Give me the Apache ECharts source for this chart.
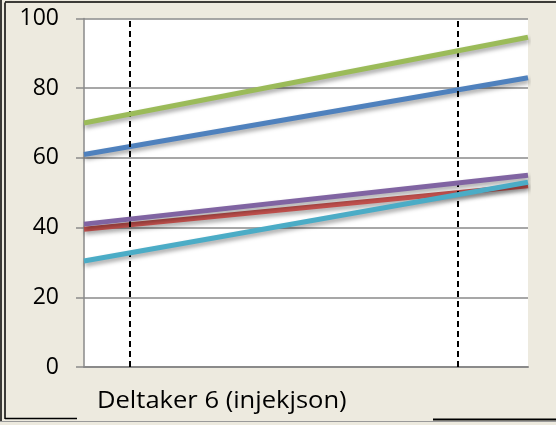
<!DOCTYPE html>
<html>
<head>
<meta charset="utf-8">
<script src="https://cdn.jsdelivr.net/npm/echarts@6/dist/echarts.min.js"></script>
<style>
  html, body { margin: 0; padding: 0; background: #EDEADF; }
  #chart { width: 556px; height: 425px; }
</style>
</head>
<body>
<div id="chart"></div>
<script>
// Time positions (start / end of the trend) and the two session markers
const xPoints = [0, 100];
const sessionMarks = [10.2, 84.1];

// Series values at start and end
const seriesNames = ['Serie 1', 'Serie 2', 'Serie 3', 'Serie 4', 'Serie 5'];
const blueVals = [61, 83];
const redVals = [39.5, 52];
const greenVals = [70, 94.6];
const purpleVals = [41, 55];
const cyanVals = [30.4, 53];

const yTicks = [0, 20, 40, 60, 80, 100];
const caption = 'Deltaker 6 (injekjson)';

const colors = ['#4F81BD', '#C0504D', '#9BBB59', '#8064A2', '#4BACC6'];
const allVals = [blueVals, redVals, greenVals, purpleVals, cyanVals];

const chart = echarts.init(document.getElementById('chart'), null, { renderer: 'canvas' });

const series = allVals.map((vals, i) => ({
  name: seriesNames[i],
  type: 'line',
  data: xPoints.map((x, k) => [x, vals[k]]),
  symbol: 'none',
  silent: true,
  lineStyle: {
    color: colors[i],
    width: 5,
    shadowColor: 'rgba(0,0,0,0.35)',
    shadowBlur: 4,
    shadowOffsetX: 1,
    shadowOffsetY: 3
  },
  z: 3 + i
}));

// dashed session markers
series.push({
  type: 'line',
  data: [],
  silent: true,
  markLine: {
    silent: true,
    symbol: 'none',
    label: { show: false },
    lineStyle: { color: '#000', width: 2, type: [6, 4] },
    data: sessionMarks.map(v => ({ xAxis: v }))
  },
  z: 10
});

const font = '"Open Sans", "Noto Sans", sans-serif';

chart.setOption({
  backgroundColor: '#EDEADF',
  animation: false,
  grid: {
    left: 84, right: 28, top: 18.5, bottom: 58,
    show: true, backgroundColor: '#FFFFFF', borderWidth: 0,
    containLabel: false, outerBoundsMode: 'none'
  },
  xAxis: {
    type: 'value', min: 0, max: 100,
    axisLine: { show: true, lineStyle: { color: '#8a8a8a', width: 2 } },
    axisTick: { show: false },
    axisLabel: { show: false },
    splitLine: { show: false }
  },
  yAxis: {
    type: 'value', min: yTicks[0], max: yTicks[yTicks.length - 1], interval: 20,
    axisLine: { show: true, lineStyle: { color: '#8a8a8a', width: 1.5 } },
    axisTick: { show: true, length: 8, inside: false, lineStyle: { color: '#8a8a8a', width: 1.5 } },
    axisLabel: { color: '#000', fontSize: 23, fontFamily: font, margin: 25 },
    splitLine: { show: true, lineStyle: { color: '#8a8a8a', width: 1.5 } }
  },
  series: series,
  graphic: [
    // outer frame lines
    { type: 'line', shape: { x1: 1, y1: 0, x2: 1, y2: 421 }, style: { stroke: '#000', lineWidth: 1.5 }, silent: true },
    { type: 'line', shape: { x1: 5, y1: 2.5, x2: 5, y2: 419 }, style: { stroke: '#000', lineWidth: 1.5 }, silent: true },
    { type: 'line', shape: { x1: 5, y1: 2, x2: 556, y2: 2 }, style: { stroke: '#000', lineWidth: 1.5 }, silent: true },
    { type: 'line', shape: { x1: 5, y1: 418.5, x2: 77, y2: 418.5 }, style: { stroke: '#000', lineWidth: 1.5 }, silent: true },
    { type: 'line', shape: { x1: 0, y1: 421.5, x2: 556, y2: 421.5 }, style: { stroke: '#9a9a9a', lineWidth: 1 }, silent: true },
    { type: 'line', shape: { x1: 433, y1: 419.5, x2: 556, y2: 419.5 }, style: { stroke: '#000', lineWidth: 2 }, silent: true },
    {
      type: 'text', x: 97, y: 390, scaleX: 1.11, silent: true,
      style: { text: caption, fill: '#000', fontSize: 23, fontFamily: font }
    }
  ]
});
</script>
</body>
</html>
